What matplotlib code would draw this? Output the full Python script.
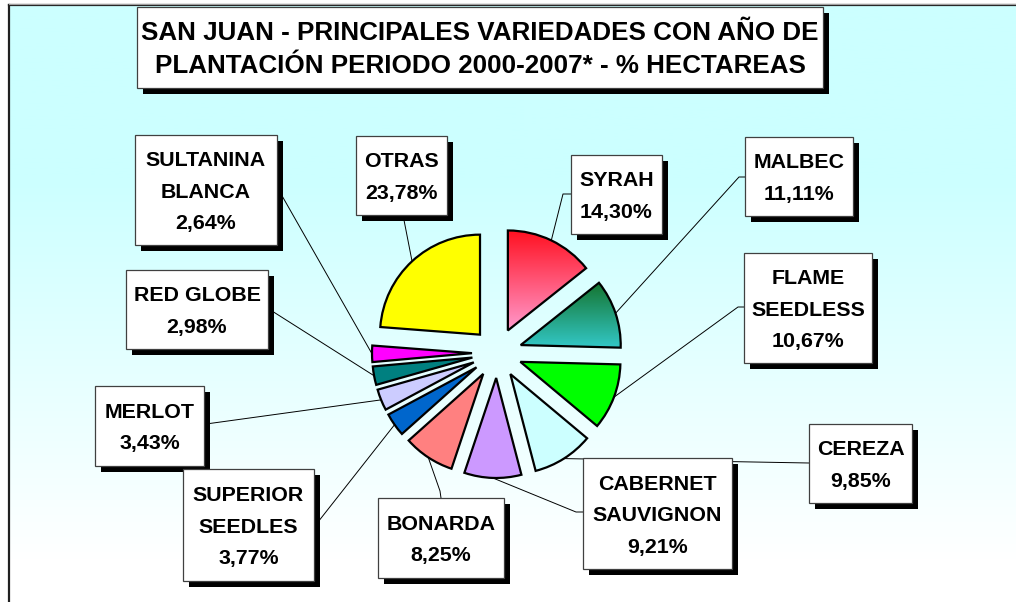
import numpy as np
import matplotlib.pyplot as plt
from matplotlib.patches import Rectangle
from matplotlib.colors import to_rgb

plt.rcParams['font.family'] = ['Liberation Sans', 'DejaVu Sans']

# datos (% hectareas, sentido horario desde las 12)
variedades = ['SYRAH', 'MALBEC', 'FLAME\nSEEDLESS', 'CEREZA', 'CABERNET\nSAUVIGNON',
              'BONARDA', 'SUPERIOR\nSEEDLES', 'MERLOT', 'RED GLOBE',
              'SULTANINA\nBLANCA', 'OTRAS']
porcentajes = [14.30, 11.11, 10.67, 9.85, 9.21, 8.25, 3.77, 3.43, 2.98, 2.64, 23.78]
colores = ['#ff2030', '#1c8040', '#00ff00', '#ccffff', '#cc99ff', '#ff8080',
           '#0066cc', '#ccccff', '#008080', '#ff00ff', '#ffff00']
# degradados (arriba, abajo) para SYRAH y MALBEC
degradados = {0: ('#ff1020', '#ff99cc'), 1: ('#157530', '#33c8c8')}

titulo = ['SAN JUAN - PRINCIPALES VARIEDADES CON AÑO DE',
          'PLANTACIÓN PERIODO 2000-2007* - % HECTAREAS']

W, H = 1016, 602

# cajas de etiqueta en pixeles (x0, y0, x1, y1), origen arriba-izq
cajas = [(571, 155, 662, 234), (745, 137, 853, 216), (744, 253, 872, 363),
         (809, 424, 912, 503), (583, 458, 732, 569), (378, 498, 504, 578),
         (183, 469, 314, 581), (95, 386, 204, 466), (126, 270, 268, 349),
         (135, 135, 277, 245), (356, 136, 447, 215)]
# puntos de union de las guias (codo, caja)
guias = [((563, 194), (571, 194)), ((739, 177), (745, 177)), ((738, 307), (744, 307)),
         (None, (809, 463)), ((576, 512), (583, 512)), ((440, 491), (441, 498)),
         (None, (318, 522)), (None, (206, 424)), (None, (272, 311)),
         (None, (281, 194)), (None, (403, 215))]


def py(y):
    return H - y


def mezcla(c1, c2, t):
    c1, c2 = np.array(to_rgb(c1)), np.array(to_rgb(c2))
    return (1 - t)[:, None, None] * c1 + t[:, None, None] * c2


fig = plt.figure(figsize=(W / 100, H / 100), dpi=100)
ax = fig.add_axes([0, 0, 1, 1])

# explode en unidades de datos (radio 100)
wedges, _ = ax.pie(porcentajes, colors=colores, center=(497, py(353)), radius=100,
                   explode=[25] * len(porcentajes), startangle=90, counterclock=False,
                   wedgeprops=dict(edgecolor='black', linewidth=1.6))
for w in wedges:
    w.set_zorder(3)

# degradados dentro de las porciones
for i, (ctop, cbot) in degradados.items():
    w = wedges[i]
    v = w.get_path().vertices
    t = np.linspace(0, 1, 256)
    im = ax.imshow(mezcla(ctop, cbot, t), extent=(v[:, 0].min(), v[:, 0].max(),
                   v[:, 1].min(), v[:, 1].max()), aspect='auto', zorder=2.5)
    im.set_clip_path(w)
    w.set_facecolor('none')

ax.set_xlim(0, W)
ax.set_ylim(0, H)
ax.set_aspect('equal')
ax.axis('off')

# fondo degradado
yy = np.linspace(5, H, 400)
tt = np.clip((yy - 180) / 380.0, 0, 1)
ax.imshow(mezcla('#ccffff', '#ffffff', tt), extent=(9, W, 0, py(5)), aspect='auto', zorder=0)
ax.plot([8.5, 8.5], [0, py(5)], color='#202020', lw=1.6, zorder=1)
ax.plot([8.5, W], [py(5), py(5)], color='#202020', lw=1.6, zorder=1)
ax.plot([8.5, W], [py(3.5), py(3.5)], color='#a0a0a0', lw=0.8, zorder=1)

# guias
for w, (codo, punto) in zip(wedges, guias):
    ang = np.deg2rad((w.theta1 + w.theta2) / 2)
    cx, cy = w.center
    xs = [cx + w.r * np.cos(ang)]
    ys = [cy + w.r * np.sin(ang)]
    if codo is not None:
        xs.append(codo[0]); ys.append(py(codo[1]))
    xs.append(punto[0]); ys.append(py(punto[1]))
    ax.plot(xs, ys, color='black', lw=0.7, zorder=1.5)


def caja(x0, y0, x1, y1, lineas, fs, paso):
    ax.add_patch(Rectangle((x0 + 6, py(y1 + 6)), x1 - x0, y1 - y0,
                           facecolor='black', edgecolor='none', zorder=4))
    ax.add_patch(Rectangle((x0, py(y1)), x1 - x0, y1 - y0,
                           facecolor='white', edgecolor='#404040', lw=0.9, zorder=4.1))
    cxb = (x0 + x1) / 2
    cyb = (y0 + y1) / 2
    n = len(lineas)
    cap = fs / 72 * 100 * 0.716
    for k, s in enumerate(lineas):
        yc = cyb + (k - (n - 1) / 2) * paso
        ax.text(cxb, py(yc + cap / 2), s, ha='center', va='baseline',
                fontsize=fs, fontweight='bold', color='black', zorder=5)


for nombre, val, (x0, y0, x1, y1) in zip(variedades, porcentajes, cajas):
    lineas = nombre.split('\n') + [f'{val:.2f}'.replace('.', ',') + '%']
    caja(x0, y0, x1, y1, lineas, 15.4, 31.5)

caja(137, 7, 823, 88, titulo, 18.7, 33)

fig.savefig('out.png', dpi=100)
